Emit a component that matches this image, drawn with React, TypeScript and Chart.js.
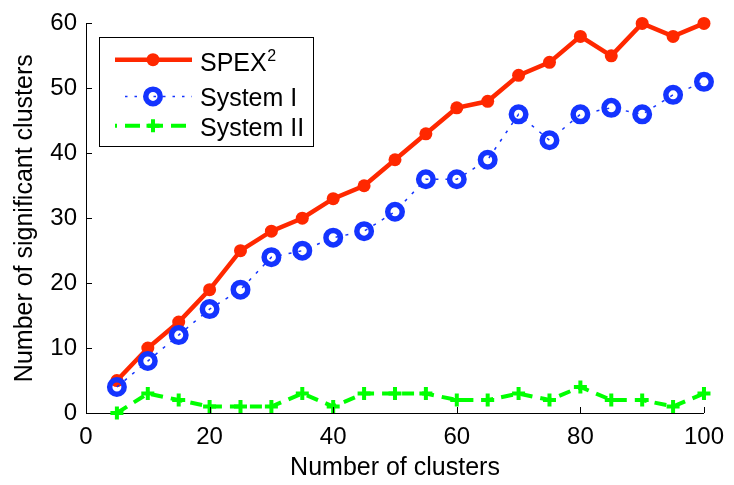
import React, { useEffect, useRef } from "react";
import { Chart, registerables } from "chart.js";

Chart.register(...registerables);

// ---- data ----
const clusters = [5, 10, 15, 20, 25, 30, 35, 40, 45, 50, 55, 60, 65, 70, 75, 80, 85, 90, 95, 100];
const spex2 = [5, 10, 14, 19, 25, 28, 30, 33, 35, 39, 43, 47, 48, 52, 54, 58, 55, 60, 58, 60];
const system1 = [4, 8, 12, 16, 19, 24, 25, 27, 28, 31, 36, 36, 39, 46, 42, 46, 47, 46, 49, 51];
const system2 = [0, 3, 2, 1, 1, 1, 3, 1, 3, 3, 3, 2, 2, 3, 2, 4, 2, 2, 1, 3];
const xTicks = [0, 20, 40, 60, 80, 100];
const yTicks = [0, 10, 20, 30, 40, 50, 60];
const seriesNames = ["SPEX", "System I", "System II"];
const spexSup = "2";
const xTitle = "Number of clusters";
const yTitle = "Number of significant clusters";

const FONT = "'Liberation Sans', Arial, Helvetica, sans-serif";
const RED = "#FF2800";
const BLUE = "#1434FF";
const GREEN = "#00FF00";

function drawMarker(ctx: CanvasRenderingContext2D, kind: string, x: number, y: number) {
  ctx.save();
  ctx.setLineDash([]);
  if (kind === "dot") {
    ctx.fillStyle = RED;
    ctx.beginPath();
    ctx.arc(x, y, 6.5, 0, Math.PI * 2);
    ctx.fill();
  } else if (kind === "ring") {
    ctx.strokeStyle = BLUE;
    ctx.lineWidth = 5.5;
    ctx.beginPath();
    ctx.arc(x, y, 7.25, 0, Math.PI * 2);
    ctx.stroke();
  } else {
    ctx.strokeStyle = GREEN;
    ctx.lineWidth = 4;
    ctx.beginPath();
    ctx.moveTo(x - 6.5, y);
    ctx.lineTo(x + 6.5, y);
    ctx.moveTo(x, y - 6.5);
    ctx.lineTo(x, y + 6.5);
    ctx.stroke();
  }
  ctx.restore();
}

const matlabPlugin = {
  id: "matlabDecor",
  afterDraw(chart: any) {
    const ctx: CanvasRenderingContext2D = chart.ctx;
    const { left, top, bottom } = chart.chartArea;
    const xs = chart.scales.x;
    const ys = chart.scales.y;
    ctx.save();
    // inward ticks
    ctx.strokeStyle = "#000";
    ctx.lineWidth = 1;
    ctx.setLineDash([]);
    ctx.beginPath();
    for (const v of yTicks) {
      const py = Math.round(ys.getPixelForValue(v)) + 0.5;
      ctx.moveTo(left, py);
      ctx.lineTo(left + 6, py);
    }
    for (const v of xTicks) {
      const px = Math.round(xs.getPixelForValue(v)) + 0.5;
      ctx.moveTo(px, bottom);
      ctx.lineTo(px, bottom - 6);
    }
    ctx.stroke();

    // legend box
    const bx = left + 13;
    const by = top + 13.7;
    const bw = 214;
    const bh = 109;
    ctx.fillStyle = "#fff";
    ctx.fillRect(bx, by, bw, bh);
    ctx.strokeStyle = "#000";
    ctx.lineWidth = 1;
    ctx.strokeRect(Math.round(bx) + 0.5, Math.round(by) + 0.5, bw, bh);

    const sx0 = left + 29;
    const sx1 = left + 106;
    const sm = left + 67;
    const rowsY = [top + 36.3, top + 73, top + 102.3];
    const baseY = [top + 48, top + 83, top + 113];
    const tx = left + 114;

    // SPEX2 sample
    ctx.strokeStyle = RED;
    ctx.lineWidth = 4.5;
    ctx.beginPath();
    ctx.moveTo(sx0, rowsY[0]);
    ctx.lineTo(sx1, rowsY[0]);
    ctx.stroke();
    drawMarker(ctx, "dot", sm, rowsY[0]);

    // System I sample
    ctx.strokeStyle = BLUE;
    ctx.lineWidth = 1.5;
    ctx.setLineDash([2.5, 7]);
    ctx.beginPath();
    ctx.moveTo(sx0 + 10, rowsY[1]);
    ctx.lineTo(sx1, rowsY[1]);
    ctx.stroke();
    ctx.setLineDash([]);
    drawMarker(ctx, "ring", sm, rowsY[1]);

    // System II sample
    ctx.strokeStyle = GREEN;
    ctx.lineWidth = 4;
    ctx.setLineDash([15, 8]);
    ctx.lineDashOffset = 13;
    ctx.beginPath();
    ctx.moveTo(sx0, rowsY[2]);
    ctx.lineTo(sx1, rowsY[2]);
    ctx.stroke();
    ctx.setLineDash([]);
    ctx.lineDashOffset = 0;
    drawMarker(ctx, "plus", sm, rowsY[2]);

    // texts
    ctx.fillStyle = "#000";
    ctx.textBaseline = "alphabetic";
    ctx.textAlign = "left";
    ctx.font = `25px ${FONT}`;
    ctx.fillText(seriesNames[0], tx, baseY[0]);
    const w = ctx.measureText(seriesNames[0]).width;
    ctx.fillText(seriesNames[1], tx, baseY[1]);
    ctx.fillText(seriesNames[2], tx, baseY[2]);
    ctx.font = `16px ${FONT}`;
    ctx.fillText(spexSup, tx + w + 0.5, baseY[0] - 10);
    ctx.restore();
  },
};

export default function App() {
  const ref = useRef<HTMLCanvasElement | null>(null);

  useEffect(() => {
    document.body.style.margin = "0";
    const canvas = ref.current;
    if (!canvas) return;
    const tickFont = { family: FONT, size: 24, lineHeight: 1.2 };
    const chart = new Chart(canvas, {
      type: "line",
      data: {
        datasets: [
          {
            label: seriesNames[0] + spexSup,
            data: clusters.map((x, i) => ({ x, y: spex2[i] })),
            borderColor: RED,
            backgroundColor: RED,
            borderWidth: 4.5,
            pointStyle: "circle",
            pointRadius: 6.5,
            pointBorderWidth: 0,
            pointBackgroundColor: RED,
            pointBorderColor: RED,
            order: 3,
            clip: false,
          },
          {
            label: seriesNames[1],
            data: clusters.map((x, i) => ({ x, y: system1[i] })),
            borderColor: BLUE,
            borderWidth: 1.5,
            borderDash: [3, 7],
            pointStyle: "circle",
            pointRadius: 7.25,
            pointBorderWidth: 5.5,
            pointBackgroundColor: "rgba(0,0,0,0)",
            pointBorderColor: BLUE,
            order: 2,
            clip: false,
          },
          {
            label: seriesNames[2],
            data: clusters.map((x, i) => ({ x, y: system2[i] })),
            borderColor: GREEN,
            borderWidth: 4,
            borderDash: [12, 8],
            pointStyle: "cross",
            pointRadius: 6.5,
            pointBorderWidth: 4,
            pointBorderColor: GREEN,
            pointBackgroundColor: GREEN,
            order: 1,
            clip: false,
          },
        ],
      },
      options: {
        animation: false,
        responsive: false,
        maintainAspectRatio: false,
        devicePixelRatio: 1,
        layout: { padding: { left: 0, top: 17, right: 25, bottom: 0 } },
        plugins: {
          legend: { display: false },
          tooltip: { enabled: false },
        },
        elements: { line: { tension: 0 } },
        scales: {
          x: {
            type: "linear",
            min: xTicks[0],
            max: xTicks[xTicks.length - 1],
            grid: { display: false, drawTicks: false },
            border: { display: true, color: "#000", width: 1 },
            ticks: {
              stepSize: xTicks[1] - xTicks[0],
              color: "#000",
              font: tickFont,
              padding: 10,
              maxRotation: 0,
            },
            title: {
              display: true,
              text: xTitle,
              color: "#000",
              font: { family: FONT, size: 25, lineHeight: 1 },
              padding: { top: 0, bottom: 4 },
            },
            afterFit: (s: any) => {
              s.height = 72;
            },
          },
          y: {
            type: "linear",
            min: yTicks[0],
            max: yTicks[yTicks.length - 1],
            grid: { display: false, drawTicks: false },
            border: { display: true, color: "#000", width: 1 },
            ticks: {
              stepSize: yTicks[1] - yTicks[0],
              color: "#000",
              font: tickFont,
              padding: 9,
            },
            title: {
              display: true,
              text: yTitle,
              color: "#000",
              font: { family: FONT, size: 25, lineHeight: 1 },
              padding: { top: 12.2, bottom: 0 },
            },
            afterFit: (s: any) => {
              s.width = 86;
            },
          },
        },
      },
      plugins: [matlabPlugin],
    });
    return () => chart.destroy();
  }, []);

  return <canvas ref={ref} width={734} height={485} style={{ display: "block", width: 734, height: 485 }} />;
}
